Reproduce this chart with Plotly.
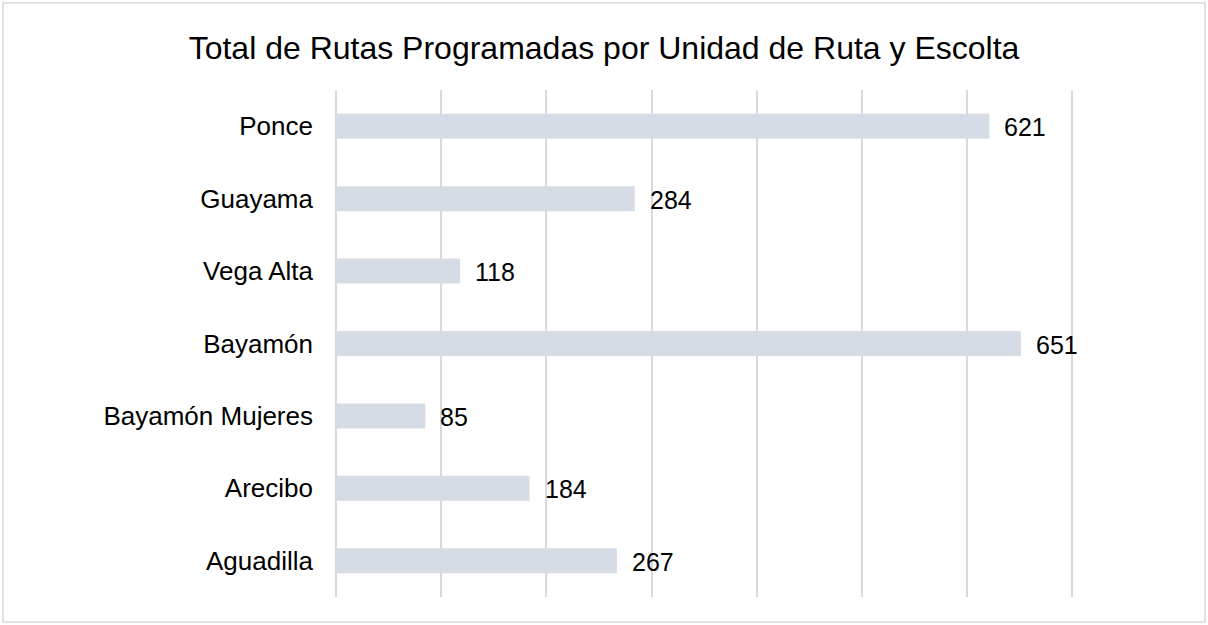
import plotly.graph_objects as go

# data
unidades = ["Ponce", "Guayama", "Vega Alta", "Bayamón", "Bayamón Mujeres", "Arecibo", "Aguadilla"]
rutas = [621, 284, 118, 651, 85, 184, 267]

font_fam = "Liberation Sans, Arial, Helvetica, sans-serif"

fig = go.Figure()
fig.add_trace(go.Bar(
    x=rutas,
    y=unidades,
    orientation="h",
    marker=dict(color="#D6DCE5", line=dict(width=0)),
    hoverinfo="x+y",
))

# value labels next to the bars
for u, v in zip(unidades, rutas):
    fig.add_annotation(x=v, y=u, text=str(v), showarrow=False,
                       xanchor="left", xshift=13, yshift=-1,
                       font=dict(size=25, color="#000000", family=font_fam))

fig.update_layout(
    width=1208, height=625,
    margin=dict(l=336, r=134, t=90, b=28),
    paper_bgcolor="white", plot_bgcolor="white",
    bargap=0.655,
    showlegend=False,
    title=dict(text="Total de Rutas Programadas por Unidad de Ruta y Escolta",
               x=0.5, xanchor="center", y=0.923, yanchor="middle",
               font=dict(size=32, color="#000000", family=font_fam)),
    font=dict(family=font_fam, color="#000000"),
)

fig.update_xaxes(range=[0, 701.5], tickvals=[0, 100, 200, 300, 400, 500, 600, 700],
                 showgrid=True, gridcolor="#D9D9D9", gridwidth=2,
                 zeroline=True, zerolinecolor="#D9D9D9", zerolinewidth=2,
                 showticklabels=False, showline=False, fixedrange=True)
fig.update_yaxes(autorange="reversed", showgrid=False, showline=False,
                 tickfont=dict(size=26, color="#000000", family=font_fam),
                 ticklabelstandoff=22, fixedrange=True)

# outer border
fig.add_shape(type="rect", xref="paper", yref="paper",
              x0=(3 - 336) / 738, x1=(1205 - 336) / 738,
              y0=-(622 - 597) / 507, y1=1 + (90 - 3) / 507,
              line=dict(color="#D9D9D9", width=1.5), fillcolor="rgba(0,0,0,0)")

fig.write_html("out.html", config={"displayModeBar": False},
               post_script="document.body.style.margin='0';document.body.style.overflow='hidden';")
